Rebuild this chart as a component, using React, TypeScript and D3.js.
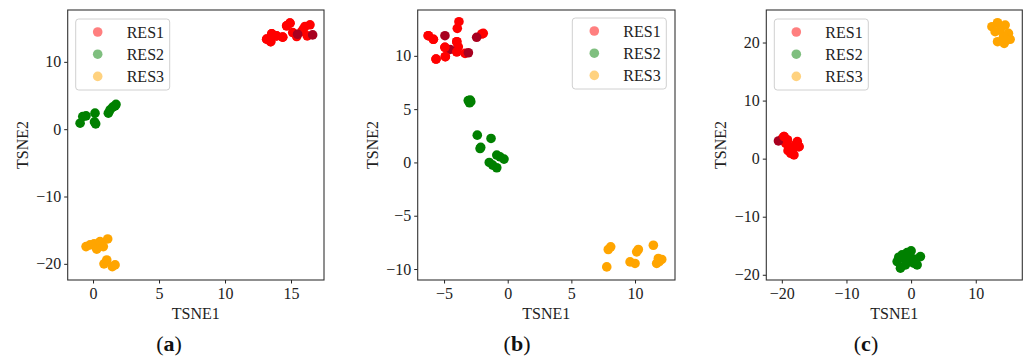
import React, { useEffect, useRef } from 'react';
import * as d3 from 'd3';

type Pt = [number, number];

// panel (a)
const resA1: Pt[] = [[13.16, 13.37], [13.46, 13.0], [13.54, 14.16], [13.9, 13.86], [14.37, 13.67], [14.67, 15.35], [14.92, 15.75], [15.13, 14.35], [15.43, 13.76], [15.81, 14.5], [15.93, 14.86], [16.06, 15.25], [16.44, 15.5], [16.23, 13.86]];
const resA1Dark: Pt[] = [[16.64, 14.0], [15.5, 14.1]];
const resA2: Pt[] = [[-0.98, 0.89], [-0.78, 1.87], [-0.53, 1.98], [0.15, 2.38], [0.2, 0.79], [0.11, 1.08], [1.16, 2.38], [1.29, 2.87], [1.49, 3.27], [1.67, 3.46], [1.74, 3.68]];
const resA3: Pt[] = [[-0.53, -17.44], [-0.23, -17.19], [0.08, -17.04], [0.28, -17.83], [0.53, -16.7], [0.78, -17.44], [1.11, -16.3], [0.83, -20.0], [1.04, -19.42], [1.46, -20.42], [1.67, -20.16]];

// panel (b)
const resB1: Pt[] = [[-6.24, 11.89], [-5.84, 11.55], [-5.63, 9.7], [-4.93, 10.8], [-4.9, 9.92], [-4.0, 11.32], [-4.0, 10.38], [-3.96, 12.58], [-3.83, 13.2], [-3.88, 10.85], [-3.35, 10.23], [-2.04, 12.05], [-1.92, 12.11]];
const resB1Dark: Pt[] = [[-4.93, 11.89], [-4.53, 10.6], [-3.09, 10.29], [-2.44, 11.74]];
const resB2: Pt[] = [[-3.1, 5.8], [-2.9, 5.7], [-3.0, 5.6], [-2.95, 5.85], [-2.39, 2.56], [-1.31, 2.25], [-2.12, 1.41], [-2.17, 1.3], [-0.86, 0.69], [-0.6, 0.53], [-0.29, 0.31], [-1.45, 0.0], [-1.18, -0.25], [-0.86, -0.5]];
const resB3: Pt[] = [[8.09, -7.92], [7.9, -8.17], [7.78, -9.8], [10.26, -8.17], [10.13, -8.39], [9.61, -9.33], [10.0, -9.48], [11.44, -7.77], [11.83, -9.01], [12.1, -9.1], [11.7, -9.48], [11.9, -9.3]];

// panel (c)
const resC1: Pt[] = [[-19.66, 3.79], [-19.14, 3.22], [-18.89, 2.07], [-18.36, 1.5], [-17.86, 2.36], [-17.35, 2.07], [-18.12, 0.64], [-18.63, 0.93], [-19.4, 2.65], [-19.91, 3.5], [-19.04, 1.38], [-17.6, 2.93]];
const resC1Dark: Pt[] = [[-20.52, 3.05]];
const resC2: Pt[] = [[-2.16, -17.73], [-1.65, -18.86], [-1.39, -16.58], [-0.62, -16.18], [0, -15.89], [-0.37, -17.44], [0.4, -18.0], [0.93, -18.3], [1.44, -16.87], [-0.88, -18.3], [-1.14, -17.15], [-1.91, -16.98], [-0.1, -16.98], [0.66, -17.32]];
const resC3: Pt[] = [[12.5, 22.72], [13.37, 23.41], [14.55, 23.0], [13.78, 22.15], [15.06, 21.58], [15.32, 20.55], [14.4, 19.86], [13.37, 20.14], [14.29, 21.0], [13.0, 21.86], [14.8, 20.43]];

const seriesNames = ['RES1', 'RES2', 'RES3'];
const seriesColors = ['#ff0000', '#008000', '#ffa500'];
const darkRed = '#a8001f';

const xTicksA = [0, 5, 10, 15];
const yTicksA = [-20, -10, 0, 10];
const xTicksB = [-5, 0, 5, 10];
const yTicksB = [-10, -5, 0, 5, 10];
const xTicksC = [-20, -10, 0, 10];
const yTicksC = [-20, -10, 0, 10, 20];

const panels = [
  { caption: 'a', box: [67.7, 324, 10, 280], xDom: [-1.92, 17.5], yDom: [-22.4, 17.7], xTicks: xTicksA, yTicks: yTicksA, series: [resA1, resA2, resA3], dark: resA1Dark, legend: [75.7, 19], capX: 169 },
  { caption: 'b', box: [417.7, 675, 10, 280], xDom: [-7.07, 13.14], yDom: [-11.03, 14.3], xTicks: xTicksB, yTicks: yTicksB, series: [resB1, resB2, resB3], dark: resB1Dark, legend: [572.3, 18], capX: 517 },
  { caption: 'c', box: [766.3, 1022.3, 10, 280], xDom: [-22.4, 17.2], yDom: [-20.9, 25.6], xTicks: xTicksC, yTicks: yTicksC, series: [resC1, resC2, resC3], dark: resC1Dark, legend: [774.3, 19], capX: 866 },
];

const W = 1026;
const H = 363;
const FONT = '"Liberation Serif", "Times New Roman", serif';

const App: React.FC = () => {
  const svgRef = useRef<SVGSVGElement>(null);

  useEffect(() => {
    if (!svgRef.current) return;
    const svg = d3.select(svgRef.current);
    svg.selectAll('*').remove();

    panels.forEach(p => {
      const [x0, x1, y0, y1] = p.box;
      const x = d3.scaleLinear().domain(p.xDom).range([x0, x1]);
      const y = d3.scaleLinear().domain(p.yDom).range([y1, y0]);
      const g = svg.append('g');

      // points
      const r = 4.8;
      const drawPts = (pts: Pt[], color: string) => {
        g.append('g').selectAll('circle')
          .data(pts)
          .enter()
          .append('circle')
          .attr('cx', d => x(d[0]))
          .attr('cy', d => y(d[1]))
          .attr('r', r)
          .attr('fill', color);
      };
      drawPts(p.series[0], seriesColors[0]);
      drawPts(p.dark, darkRed);
      drawPts(p.series[0].slice(0, Math.ceil(p.series[0].length / 2)), seriesColors[0]);
      drawPts(p.series[1], seriesColors[1]);
      drawPts(p.series[2], seriesColors[2]);

      // axes
      const fmt = (d: d3.NumberValue) => String(d).replace('-', '\u2212');
      const xAxis = g.append('g')
        .attr('transform', `translate(0,${y1})`)
        .call(d3.axisBottom(x).tickValues(p.xTicks).tickFormat(fmt).tickSize(3.5).tickPadding(4));
      const yAxis = g.append('g')
        .attr('transform', `translate(${x0},0)`)
        .call(d3.axisLeft(y).tickValues(p.yTicks).tickFormat(fmt).tickSize(3.5).tickPadding(3));
      [xAxis, yAxis].forEach(a => {
        a.select('.domain').remove();
        a.selectAll('line').attr('stroke', '#222');
        a.selectAll('text').attr('fill', '#222').style('font-family', FONT).style('font-size', '16px');
      });

      // frame
      g.append('rect')
        .attr('x', x0).attr('y', y0)
        .attr('width', x1 - x0).attr('height', y1 - y0)
        .attr('fill', 'none')
        .attr('stroke', '#333')
        .attr('stroke-width', 1.1);

      // axis labels
      g.append('text')
        .attr('x', (x0 + x1) / 2)
        .attr('y', 318.5)
        .attr('text-anchor', 'middle')
        .style('font-family', FONT).style('font-size', '16px').attr('fill', '#222')
        .text('TSNE1');
      g.append('text')
        .attr('transform', `translate(${x0 - 40},${(y0 + y1) / 2}) rotate(-90)`)
        .attr('text-anchor', 'middle')
        .style('font-family', FONT).style('font-size', '16px').attr('fill', '#222')
        .text('TSNE2');

      // legend
      const [lx, ly] = p.legend;
      const lg = g.append('g').attr('transform', `translate(${lx},${ly})`);
      lg.append('rect')
        .attr('width', 94).attr('height', 71)
        .attr('rx', 3)
        .attr('fill', 'white').attr('fill-opacity', 0.8)
        .attr('stroke', '#d0d0d0').attr('stroke-width', 1);
      seriesNames.forEach((name, i) => {
        const cy = 13 + i * 22.2;
        lg.append('circle')
          .attr('cx', 22).attr('cy', cy).attr('r', 4.8)
          .attr('fill', seriesColors[i]).attr('fill-opacity', 0.5);
        lg.append('text')
          .attr('x', 51).attr('y', cy + 5.5)
          .style('font-family', FONT).style('font-size', '16px').attr('fill', '#222')
          .text(name);
      });

      // caption
      const cap = g.append('text')
        .attr('x', p.capX).attr('y', 351)
        .attr('text-anchor', 'middle')
        .style('font-family', FONT).style('font-size', '22px').attr('fill', '#111');
      cap.append('tspan').text('(');
      cap.append('tspan').attr('font-weight', 'bold').text(p.caption);
      cap.append('tspan').text(')');
    });
  }, []);

  return (
    <div style={{ position: 'absolute', left: 0, top: 0, background: 'white' }}>
      <svg ref={svgRef} width={W} height={H} style={{ display: 'block' }} />
    </div>
  );
};

export default App;
